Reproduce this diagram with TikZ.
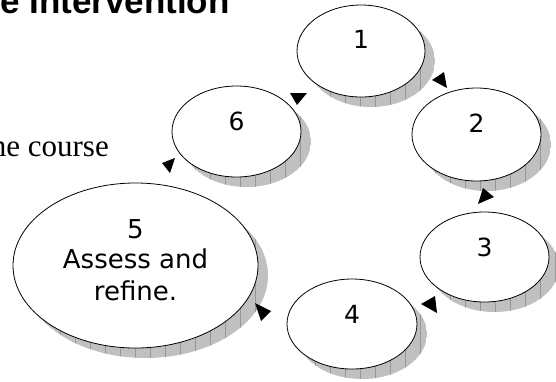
\documentclass[tikz,border=0pt]{standalone}
\usepackage{fontspec}
\usetikzlibrary{shapes.geometric}
\newfontfamily\labfont{DejaVu Sans}
\newfontfamily\headfont{Liberation Sans}
\newfontfamily\bodyfont{Liberation Serif}
\definecolor{shadowgray}{RGB}{192,192,192}
\definecolor{gridgray}{RGB}{150,150,150}
\newcommand\shadowell[4]{%
  \begin{scope}
    \clip (#1+10,#2+10) ellipse [x radius=#3, y radius=#4];
    \fill[shadowgray] (#1+10-#3,#2+10-#4) rectangle (#1+10+#3,#2+10+#4);
    \draw[gridgray, line width=0.5pt, step=15] (0,0) grid (556,381);
  \end{scope}}
\begin{document}
\begin{tikzpicture}[x=1pt,y=-1pt,
  bubble/.style={ellipse, draw=black, line width=0.8pt, fill=white, inner sep=0pt},
  lbl/.style={font=\labfont\fontsize{25}{31}\selectfont, inner sep=0pt, anchor=base},
  biglbl/.style={font=\labfont\fontsize{26}{31}\selectfont, inner sep=0pt, anchor=base},
  tiphead/.style={fill=black}]
\useasboundingbox (0,0) rectangle (556,381);
\clip (0,0) rectangle (556,381);
% title and body text
\node[font=\headfont\bfseries\fontsize{35}{40}\selectfont, anchor=base west, inner sep=0pt] (title) at (0,13) {e Intervention};
\node[font=\bodyfont\fontsize{31}{36}\selectfont, anchor=base east, inner sep=0pt] (body) at (109,156) {the course};
% shadows
\shadowell{361}{51}{64}{46}
\shadowell{476.5}{134.5}{64.5}{46.5}
\shadowell{484.5}{257}{64.5}{45}
\shadowell{352}{324}{65}{45}
\shadowell{135.5}{265.5}{122.5}{82.5}
\shadowell{236.5}{131.5}{64.5}{45.5}
% bubbles
\node[bubble, minimum width=128, minimum height=92] (e1) at (361,51) {};
\node[bubble, minimum width=129, minimum height=93] (e2) at (476.5,134.5) {};
\node[bubble, minimum width=129, minimum height=90] (e3) at (484.5,257) {};
\node[bubble, minimum width=130, minimum height=90] (e4) at (352,324) {};
\node[bubble, minimum width=245, minimum height=165] (e5) at (135.5,265.5) {};
\node[bubble, minimum width=129, minimum height=91] (e6) at (236.5,131.5) {};
% labels
\node[lbl] (l1) at (361,48) {1};
\node[lbl] (l2) at (476.5,132) {2};
\node[lbl] (l3) at (484.5,256) {3};
\node[lbl] (l4) at (352,323) {4};
\node[lbl] (l6) at (236.5,130) {6};
\node[biglbl] (l5a) at (135.5,238) {5};
\node[biglbl] (l5b) at (135.5,268) {Assess and};
\node[biglbl] (l5c) at (135.5,300) {refine.};
% arrowheads
\fill[tiphead] (432,80) -- (444,72) -- (447,88) -- cycle;
\fill[tiphead] (483,188) -- (478,204) -- (494,197) -- cycle;
\fill[tiphead] (435,296) -- (421,304) -- (437,313) -- cycle;
\fill[tiphead] (255,303) -- (261,321) -- (271,311) -- cycle;
\fill[tiphead] (162,163) -- (175,158) -- (170,173) -- cycle;
\fill[tiphead] (290,93) -- (307,93) -- (297,105) -- cycle;
\end{tikzpicture}
\end{document}
